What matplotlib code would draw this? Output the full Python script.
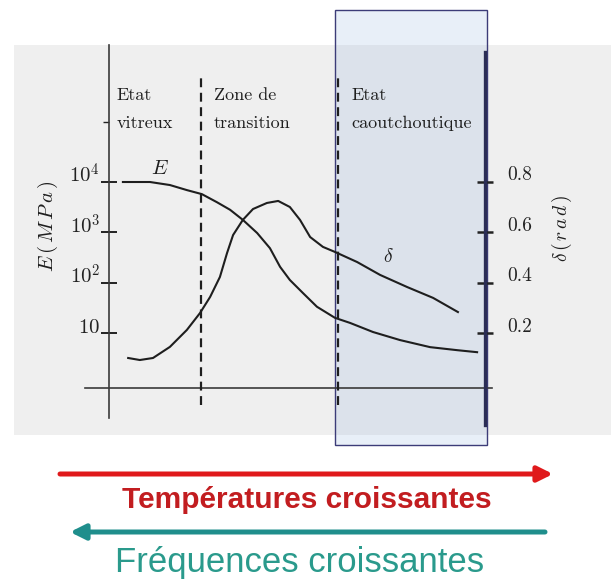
import matplotlib
matplotlib.use("Agg")
import matplotlib.pyplot as plt
from matplotlib.patches import Rectangle
from matplotlib.transforms import ScaledTranslation

plt.rcParams['mathtext.fontset'] = 'cm'

# Données (température en unités arbitraires, 0 = axe gauche, 10 = axe droit)
e_temp = [0.37, 1.09, 1.62, 2.07, 2.47, 2.87, 3.22, 3.56, 3.94, 4.28, 4.55, 4.81, 5.16, 5.53,
          6.01, 6.41, 7.02, 7.74, 8.54, 9.26, 9.79]
e_log = [3.99, 3.99, 3.93, 3.83, 3.75, 3.59, 3.44, 3.24, 2.98, 2.68, 2.31, 2.05, 1.79, 1.52,
         1.30, 1.20, 1.02, 0.86, 0.72, 0.66, 0.62]

d_temp = [0.51, 0.82, 1.17, 1.62, 2.07, 2.42, 2.69, 2.95, 3.14, 3.30, 3.56, 3.83, 4.20, 4.50,
          4.81, 5.08, 5.35, 5.69, 6.01, 6.60, 7.21, 7.93, 8.62, 9.28]
d_rad = [0.101, 0.093, 0.101, 0.145, 0.212, 0.279, 0.343, 0.422, 0.517, 0.588, 0.648, 0.691,
         0.715, 0.723, 0.699, 0.648, 0.580, 0.541, 0.521, 0.481, 0.430, 0.382, 0.339, 0.283]

e_ticks = [1, 2, 3, 4]
e_tick_labels = [r'$10$', r'$10^2$', r'$10^3$', r'$10^4$']
d_ticks = [0.2, 0.4, 0.6, 0.8]
d_tick_labels = ['0.2', '0.4', '0.6', '0.8']

zone_bounds = [2.46, 6.09]
zone_names = ['Etat\nvitreux', 'Zone de\ntransition', 'Etat\ncaoutchoutique']
zone_label_x = [0.21, 2.78, 6.44]

W, H = 611, 585
SX, SY = 37.6, 50.5


def to_data(px, py):
    # conversion pixels -> coordonnées du schéma
    return (px - 109) / SX, 1 + (333 - py) / SY


fig = plt.figure(figsize=(W / 100, H / 100), dpi=100)
ax = fig.add_axes([0, 0, 1, 1])
ax.set_xlim(to_data(0, 0)[0], to_data(W, 0)[0])
ax.set_ylim(to_data(0, H)[1], to_data(0, 0)[1])
ax.set_facecolor('white')

# Fond gris et zone caoutchoutique en bleu
x0, y0 = to_data(14, 435)
x1, y1 = to_data(W, 45)
ax.add_patch(Rectangle((x0, y0), x1 - x0, y1 - y0, facecolor='#efefef', edgecolor='none', zorder=0))
x0, y0 = to_data(335, 445)
x1, y1 = to_data(487, 10)
ax.add_patch(Rectangle((x0, y0), x1 - x0, y1 - y0, facecolor=(0.6, 0.72, 0.88, 0.22),
                       edgecolor='#3c3c78', linewidth=1.0, zorder=1))

# Axes
for s in ['top', 'right']:
    ax.spines[s].set_visible(False)
ax.spines['left'].set_position(('data', 0))
ax.spines['left'].set_bounds(to_data(0, 418)[1], to_data(0, 45)[1])
ax.spines['bottom'].set_position(('data', to_data(0, 388)[1]))
ax.spines['bottom'].set_bounds(to_data(85, 0)[0], to_data(492, 0)[0])
for s in ['left', 'bottom']:
    ax.spines[s].set_color('#3a3a3a')
    ax.spines[s].set_linewidth(1.2)
    ax.spines[s].set_zorder(3)
ax.set_xticks([])
ax.set_yticks(e_ticks, e_tick_labels)
ax.set_yticks([to_data(0, 122)[1]], minor=True)
ax.tick_params(axis='y', which='major', direction='inout', length=11, width=1.4,
               labelsize=15, pad=1, colors='#222222')
ax.tick_params(axis='y', which='minor', direction='out', length=4, width=1.0, colors='#222222')
up = ScaledTranslation(0, 6 / 72, fig.dpi_scale_trans)
for t in ax.yaxis.get_major_ticks():
    t.label1.set_transform(t.label1.get_transform() + up)

ax2 = ax.twinx()
ax2.set_ylim(ax.get_ylim()[0] / 5, ax.get_ylim()[1] / 5)
for s in ['top', 'left', 'bottom']:
    ax2.spines[s].set_visible(False)
ax2.spines['right'].set_position(('data', 10))
ax2.spines['right'].set_bounds(to_data(0, 425)[1] / 5, to_data(0, 52)[1] / 5)
ax2.spines['right'].set_color('#2b2d55')
ax2.spines['right'].set_linewidth(2.4)
ax2.set_yticks(d_ticks, d_tick_labels, fontfamily='cmr10')
ax2.tick_params(axis='y', direction='inout', length=12, width=1.8, labelsize=14,
                pad=10, colors='#222222')
for t in ax2.yaxis.get_major_ticks():
    t.label2.set_transform(t.label2.get_transform() + up)

# Courbes
ax.plot(e_temp, e_log, color='#1e1e1e', linewidth=1.5, zorder=4, solid_joinstyle='round')
ax2.plot(d_temp, d_rad, color='#1e1e1e', linewidth=1.5, zorder=4, solid_joinstyle='round')

# Limites des zones
for xb in zone_bounds:
    ax.plot([xb, xb], [to_data(0, 405)[1], to_data(0, 77)[1]], color='#1e1e1e',
            linewidth=1.6, linestyle=(0, (4, 2.5)), zorder=4)

for xl, name in zip(zone_label_x, zone_names):
    ax.text(xl, to_data(0, 88)[1], name, fontfamily='cmr10', fontsize=13,
            va='top', ha='left', linespacing=2.0, color='#1e1e1e', zorder=5)

ax.text(*to_data(160, 168), r'$E$', fontsize=15, ha='center', va='center', color='#1e1e1e')
ax.text(*to_data(388, 257), r'$\delta$', fontsize=14, ha='center', va='center', color='#1e1e1e')

ax.text(*to_data(48, 226), r'$E\,(\,M\,P\,a\,)$', fontsize=15, rotation=90,
        ha='center', va='center', color='#1e1e1e')
ax.text(*to_data(562, 228), r'$\delta\,(\,r\,a\,d\,)$', fontsize=14, rotation=90,
        ha='center', va='center', color='#1e1e1e')

# Flèches du bas
ax.annotate('', xy=to_data(553, 474), xytext=to_data(60, 474),
            arrowprops=dict(arrowstyle='-|>,head_length=0.9,head_width=0.45',
                            color='#e0191b', linewidth=3.6, shrinkA=0, shrinkB=0))
ax.text(*to_data(307, 508), 'Températures croissantes', fontfamily='Liberation Sans',
        fontsize=21.5, fontweight='bold', color='#c21d20', ha='center', va='baseline')
ax.annotate('', xy=to_data(70, 532), xytext=to_data(545, 532),
            arrowprops=dict(arrowstyle='-|>,head_length=0.9,head_width=0.45',
                            color='#1f8e8c', linewidth=3.6, shrinkA=0, shrinkB=0))
ax.text(*to_data(300, 572), 'Fréquences croissantes', fontfamily='Liberation Sans',
        fontsize=25, color='#2a9a8c', ha='center', va='baseline')

fig.savefig('out.png', dpi=100)
